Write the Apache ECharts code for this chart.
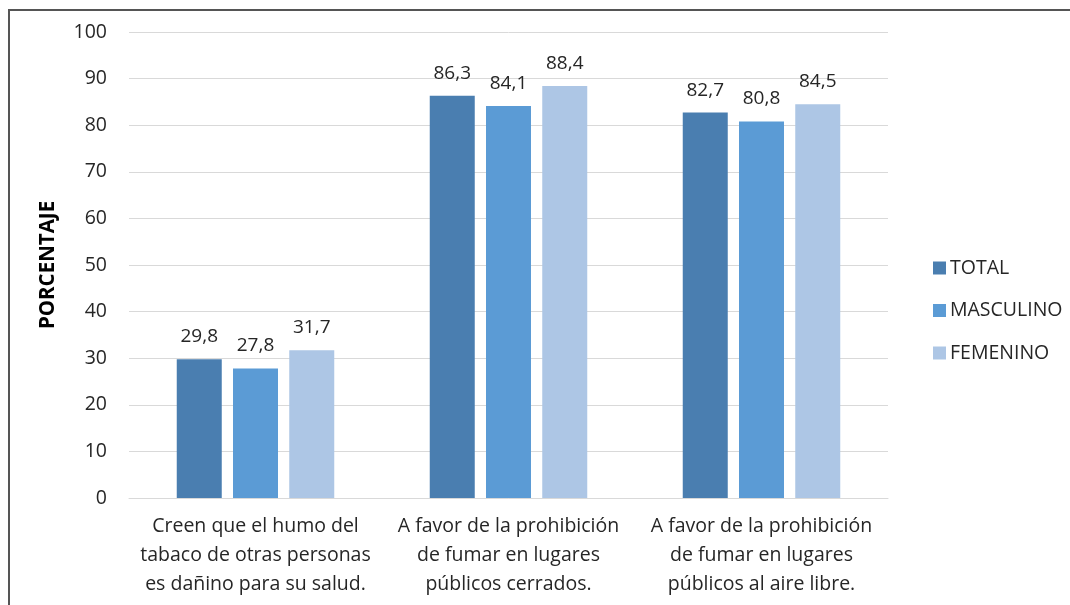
<!DOCTYPE html>
<html>
<head>
<meta charset="utf-8">
<script src="https://cdn.jsdelivr.net/npm/echarts@6/dist/echarts.min.js"></script>
<style>
html,body{margin:0;padding:0;background:#fff;}
#chart{width:1070px;height:605px;}
</style>
</head>
<body>
<div id="chart"></div>
<script>
const categories = [
  "Creen que el humo del\ntabaco de otras personas\nes dañino para su salud.",
  "A favor de la prohibición\nde fumar en lugares\npúblicos cerrados.",
  "A favor de la prohibición\nde fumar en lugares\npúblicos al aire libre."
];
const seriesNames = ["TOTAL", "MASCULINO", "FEMENINO"];
const totalValues = [29.8, 86.3, 82.7];
const masculinoValues = [27.8, 84.1, 80.8];
const femeninoValues = [31.7, 88.4, 84.5];
const colors = ["#4A7EB0", "#5B9BD5", "#ADC6E5"];
const fontFamily = "'Open Sans', 'Liberation Sans', sans-serif";

const chart = echarts.init(document.getElementById('chart'));
function mk(name, data, color) {
  return {
    name: name, type: 'bar', data: data, barWidth: 45, barGap: '25%',
    itemStyle: { color: color },
    label: {
      show: true, position: 'top', distance: 13, color: '#262626',
      fontSize: 19, fontFamily: fontFamily,
      formatter: p => p.value.toFixed(1).replace('.', ',')
    }
  };
}
chart.setOption({
  animation: false,
  textStyle: { fontFamily: fontFamily },
  graphic: [{
    type: 'rect', shape: { x: 9, y: 10, width: 1200, height: 700 },
    style: { fill: 'none', stroke: '#555', lineWidth: 2 }, silent: true
  }],
  grid: { left: 129, right: 182, top: 32, bottom: 107 },
  legend: {
    orient: 'vertical', left: 928, top: 253, itemWidth: 13, itemHeight: 13,
    itemGap: 22.5, icon: 'rect',
    textStyle: { fontSize: 19.5, color: '#262626', fontFamily: fontFamily, padding: [0, 0, 0, -1] },
    data: seriesNames
  },
  xAxis: {
    type: 'category', data: categories,
    axisLine: { show: true, lineStyle: { color: '#D9D9D9' } },
    axisTick: { show: false },
    axisLabel: { fontSize: 19.5, color: '#262626', lineHeight: 29, margin: 14, interval: 0 }
  },
  yAxis: {
    type: 'value', min: 0, max: 100, interval: 10,
    name: 'PORCENTAJE', nameLocation: 'middle', nameGap: 70, nameRotate: 90,
    nameTextStyle: { fontSize: 20.5, fontWeight: 'bold', color: '#000' },
    axisLine: { show: false }, axisTick: { show: false },
    axisLabel: { fontSize: 19.5, color: '#262626', margin: 22 },
    splitLine: { lineStyle: { color: '#D9D9D9' } }
  },
  series: [
    mk(seriesNames[0], totalValues, colors[0]),
    mk(seriesNames[1], masculinoValues, colors[1]),
    mk(seriesNames[2], femeninoValues, colors[2])
  ]
});
</script>
</body>
</html>
